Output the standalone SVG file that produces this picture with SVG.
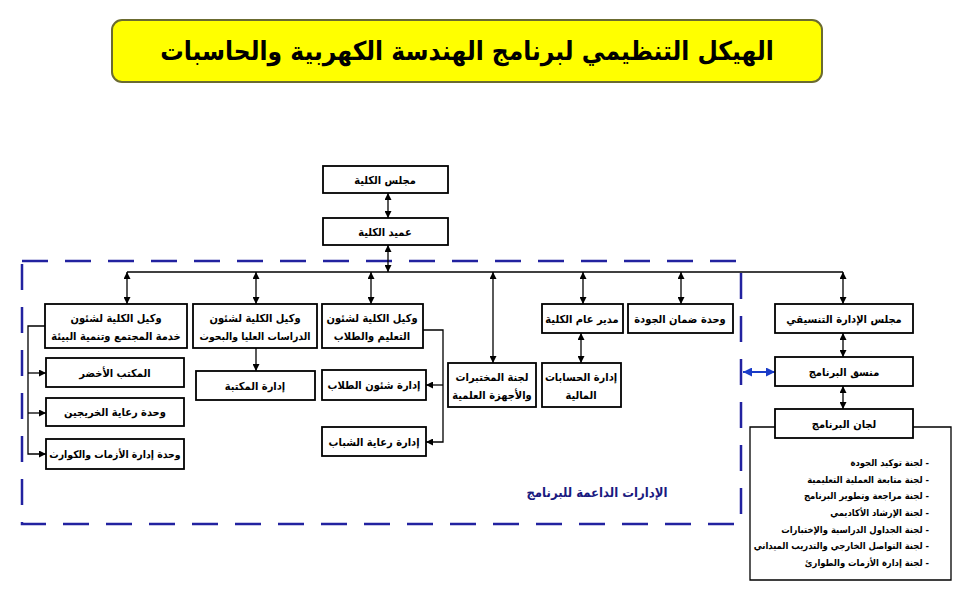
<svg xmlns="http://www.w3.org/2000/svg" width="960" height="598" viewBox="0 0 960 598">
<style>
.n{fill:#fff;stroke:#000;stroke-width:1.8}
.t{font-family:"DejaVu Sans Condensed","DejaVu Sans",sans-serif;font-weight:bold;font-size:11px;fill:#000;text-anchor:middle;direction:rtl}
.s{font-size:10.4px}
.c{fill:none;stroke:#000;stroke-width:1.3}
.li{font-family:"DejaVu Sans Condensed","DejaVu Sans",sans-serif;font-weight:bold;font-size:9.4px;fill:#000;text-anchor:start;direction:rtl}
</style>
<defs>
<marker id="a" viewBox="0 0 10 10" refX="10" refY="5" markerWidth="7" markerHeight="7" markerUnits="userSpaceOnUse" orient="auto-start-reverse"><path d="M0,0 L10,5 L0,10 z" fill="#000"/></marker>
<marker id="b" viewBox="0 0 10 10" refX="10" refY="5" markerWidth="9" markerHeight="9" markerUnits="userSpaceOnUse" orient="auto-start-reverse"><path d="M0,0 L10,5 L0,10 z" fill="#1a3cc8"/></marker>
</defs>
<rect width="960" height="598" fill="#fff"/>
<g id="title">
<rect x="112" y="20" width="710" height="62" rx="10" fill="#ffff00" stroke="#6b6b30" stroke-width="2"/>
<text x="467" y="60" style="font-family:'DejaVu Sans Condensed','DejaVu Sans',sans-serif;font-weight:bold;font-size:26px;text-anchor:middle;direction:rtl">الهيكل التنظيمي لبرنامج الهندسة الكهربية والحاسبات</text>
</g>
<g id="support-frame">
<rect x="22" y="261" width="719" height="263" fill="none" stroke="#2222a0" stroke-width="2.5" stroke-dasharray="26,17"/>
<text x="597" y="497" style="font-family:'DejaVu Sans Condensed','DejaVu Sans',sans-serif;font-weight:bold;font-size:13px;fill:#1a1a80;text-anchor:middle;direction:rtl">الإدارات الداعمة للبرنامج</text>
</g>
<g id="connectors">
<path class="c" d="M388,193 V218" marker-start="url(#a)" marker-end="url(#a)"/>
<path class="c" d="M388,245 V272" marker-start="url(#a)" marker-end="url(#a)"/>
<path class="c" d="M127,272 H843"/>
<path class="c" d="M127,272 V304" marker-start="url(#a)" marker-end="url(#a)"/>
<path class="c" d="M256,272 V304" marker-start="url(#a)" marker-end="url(#a)"/>
<path class="c" d="M371,272 V304" marker-start="url(#a)" marker-end="url(#a)"/>
<path class="c" d="M493,272 V363" marker-start="url(#a)" marker-end="url(#a)"/>
<path class="c" d="M583,272 V304" marker-start="url(#a)" marker-end="url(#a)"/>
<path class="c" d="M681,272 V304" marker-start="url(#a)" marker-end="url(#a)"/>
<path class="c" d="M843,272 V304" marker-start="url(#a)" marker-end="url(#a)"/>
<path class="c" d="M581,333 V363" marker-start="url(#a)" marker-end="url(#a)"/>
<path class="c" d="M256,348 V371" marker-end="url(#a)"/>
<path class="c" d="M423,330 H443 V442 H426" marker-end="url(#a)"/>
<path class="c" d="M443,385 H426" marker-end="url(#a)"/>
<path class="c" d="M45,326 H28 V454 H46" marker-end="url(#a)"/>
<path class="c" d="M28,373 H46" marker-end="url(#a)"/>
<path class="c" d="M28,413 H46" marker-end="url(#a)"/>
<path class="c" d="M843,333 V357" marker-start="url(#a)" marker-end="url(#a)"/>
<path class="c" d="M843,386 V409" marker-start="url(#a)" marker-end="url(#a)"/>
<path d="M743,372 H775" fill="none" stroke="#1a3cc8" stroke-width="2" marker-start="url(#b)" marker-end="url(#b)"/>
</g>
<g id="n-council"><rect class="n" x="323" y="166" width="125" height="27"/><text class="t" x="385" y="184">مجلس الكلية</text></g>
<g id="n-dean"><rect class="n" x="323" y="218" width="125" height="27"/><text class="t" x="385" y="236">عميد الكلية</text></g>
<g id="n-vd-community"><rect class="n" x="45" y="304" width="142" height="44"/><text class="t" x="116" y="322">وكيل الكلية لشئون</text><text class="t" x="116" y="340">خدمة المجتمع وتنمية البيئة</text></g>
<g id="n-vd-grad"><rect class="n" x="193" y="304" width="124" height="44"/><text class="t" x="255" y="322">وكيل الكلية لشئون</text><text class="t s" x="255" y="340">الدراسات العليا والبحوث</text></g>
<g id="n-vd-edu"><rect class="n" x="322" y="304" width="101" height="44"/><text class="t" x="372" y="322">وكيل الكلية لشئون</text><text class="t" x="372" y="340">التعليم والطلاب</text></g>
<g id="n-gm"><rect class="n" x="542" y="304" width="81" height="29"/><text class="t" x="582" y="323">مدير عام الكلية</text></g>
<g id="n-quality"><rect class="n" x="628" y="304" width="105" height="29"/><text class="t" x="680" y="323">وحدة ضمان الجودة</text></g>
<g id="n-coord-council"><rect class="n" x="775" y="304" width="138" height="29"/><text class="t" x="844" y="323">مجلس الإدارة التنسيقي</text></g>
<g id="n-labs"><rect class="n" x="448" y="363" width="88" height="44"/><text class="t" x="492" y="381">لجنة المختبرات</text><text class="t" x="492" y="399">والأجهزة العلمية</text></g>
<g id="n-finance"><rect class="n" x="542" y="363" width="79" height="44"/><text class="t" x="581" y="381">إدارة الحسابات</text><text class="t" x="581" y="399">المالية</text></g>
<g id="n-library"><rect class="n" x="196" y="371" width="119" height="29"/><text class="t" x="255" y="390">إدارة المكتبة</text></g>
<g id="n-students"><rect class="n" x="322" y="370" width="104" height="30"/><text class="t" x="374" y="389">إدارة شئون الطلاب</text></g>
<g id="n-youth"><rect class="n" x="322" y="427" width="104" height="29"/><text class="t" x="374" y="446">إدارة رعاية الشباب</text></g>
<g id="n-green"><rect class="n" x="46" y="358" width="138" height="29"/><text class="t" x="115" y="377">المكتب الأخضر</text></g>
<g id="n-alumni"><rect class="n" x="46" y="398" width="138" height="28"/><text class="t" x="115" y="416">وحدة رعاية الخريجين</text></g>
<g id="n-crisis"><rect class="n" x="46" y="439" width="138" height="30"/><text class="t s" x="115" y="458">وحدة إدارة الأزمات والكوارث</text></g>
<g id="n-coordinator"><rect class="n" x="775" y="357" width="138" height="29"/><text class="t" x="844" y="376">منسق البرنامج</text></g>
<g id="n-committees">
<path class="c" d="M775,427 H750 V580 H951 V427 H913" stroke-width="1.6"/>
<rect class="n" x="775" y="409" width="138" height="29"/><text class="t" x="844" y="428">لجان البرنامج</text>
<text class="li" x="929" y="466">- لجنة توكيد الجودة</text>
<text class="li" x="929" y="483">- لجنة متابعة العملية التعليمية</text>
<text class="li" x="929" y="499">- لجنة مراجعة وتطوير البرنامج</text>
<text class="li" x="929" y="516">- لجنة الإرشاد الأكاديمي</text>
<text class="li" x="929" y="533">- لجنة الجداول الدراسية والإختبارات</text>
<text class="li" x="929" y="549">- لجنة التواصل الخارجي والتدريب الميداني</text>
<text class="li" x="929" y="566">- لجنة إدارة الأزمات والطوارئ</text>
</g>
</svg>
